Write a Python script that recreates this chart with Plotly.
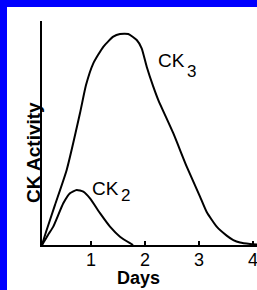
import plotly.graph_objects as go

# CK3 curve (days, activity in arbitrary units 0-100)
ck3_days = [0.093, 0.167, 0.334, 0.55, 0.797, 0.908, 1.043, 1.228, 1.413, 1.537, 1.691,
            1.847, 1.939, 2.032, 2.154, 2.247, 2.524, 2.773, 3.019, 3.143, 3.328, 3.513,
            3.636, 3.76, 3.945, 4.075]
ck3_vals = [0, 5.8, 17.9, 33.5, 58.9, 71.4, 81.1, 88.5, 93.0, 94.2, 94.2,
            91.5, 87.8, 79.6, 70.7, 64.7, 49.9, 35.0, 21.6, 14.7, 8.2, 4.2,
            2.2, 1.1, 0.45, 0.2]

# CK2 curve
ck2_days = [0.093, 0.204, 0.302, 0.487, 0.611, 0.736, 0.858, 0.982, 1.167, 1.352, 1.537, 1.722, 1.78]
ck2_vals = [0, 4.5, 8.2, 18.6, 23.1, 24.6, 23.8, 20.8, 14.2, 8.2, 3.7, 0.8, 0]

tick_vals = [1, 2, 3, 4]
tick_text = ["1", "2", "3", "4"]

BORDER = 7
W, H = 257 - BORDER, 290 - BORDER
L, R, T, B = 42 - BORDER, 0, 21 - BORDER, 290 - 245
PW, PH = W - L - R, H - T - B

def px(x):
    return (x - BORDER - L) / PW

def py(y):
    return (H - B - (y - BORDER)) / PH

FONT = "Liberation Sans, Arial, sans-serif"

fig = go.Figure()
fig.add_trace(go.Scatter(x=ck3_days, y=ck3_vals, mode="lines",
                         line=dict(color="black", width=2, shape="spline", smoothing=0.5),
                         hoverinfo="skip"))
fig.add_trace(go.Scatter(x=ck2_days, y=ck2_vals, mode="lines",
                         line=dict(color="black", width=2, shape="spline", smoothing=0.5),
                         hoverinfo="skip"))

annotations = [
    dict(text="<b>Days</b>", xref="paper", yref="paper", x=px(138.5), y=py(278),
         xanchor="center", yanchor="middle", showarrow=False,
         font=dict(family=FONT, size=18, color="black")),
    dict(text="<b>CK Activity</b>", xref="paper", yref="paper", x=px(33), y=py(153),
         xanchor="center", yanchor="middle", showarrow=False, textangle=-90,
         font=dict(family=FONT, size=19, color="black")),
    dict(text="CK", xref="x", yref="y", x=2.482, y=82.4, xanchor="center", yanchor="middle",
         showarrow=False, font=dict(family=FONT, size=19, color="black")),
    dict(text="3", xref="x", yref="y", x=2.861, y=77.5, xanchor="center", yanchor="middle",
         showarrow=False, font=dict(family=FONT, size=17, color="black")),
    dict(text="CK", xref="x", yref="y", x=1.26, y=25.2, xanchor="center", yanchor="middle",
         showarrow=False, font=dict(family=FONT, size=19, color="black")),
    dict(text="2", xref="x", yref="y", x=1.645, y=21.9, xanchor="center", yanchor="middle",
         showarrow=False, font=dict(family=FONT, size=17, color="black")),
]

fig.update_layout(
    width=W, height=H,
    margin=dict(l=L, r=R, t=T, b=B, pad=0),
    paper_bgcolor="white", plot_bgcolor="white",
    showlegend=False,
    annotations=annotations,
    xaxis=dict(range=[0.093, 0.093 + PW / 54.0], tickvals=tick_vals, ticktext=tick_text,
               ticks="inside", ticklen=4, tickwidth=1.5, tickcolor="black",
               showline=True, linecolor="black", linewidth=2, showgrid=False, zeroline=False,
               tickfont=dict(family=FONT, size=18, color="black"),
               ticklabelstandoff=-3,
               ticklabeloverflow="allow", fixedrange=True),
    yaxis=dict(range=[0, 100], showticklabels=False, ticks="", showline=True,
               linecolor="black", linewidth=2, showgrid=False, zeroline=False, fixedrange=True),
    font=dict(family=FONT, color="black"),
)

fig.write_html(
    "out.html", config=dict(displayModeBar=False),
    post_script=("document.documentElement.style.overflow='hidden';"
                 "document.documentElement.style.margin='0';"
                 "document.body.style.margin='0';"
                 "document.body.style.padding='0';"
                 "document.body.style.background='#FFFFFF';"
                 "var g=document.getElementsByClassName('plotly-graph-div')[0];"
                 "g.style.borderTop='7px solid #0000FF';"
                 "g.style.borderLeft='7px solid #0000FF';"))
